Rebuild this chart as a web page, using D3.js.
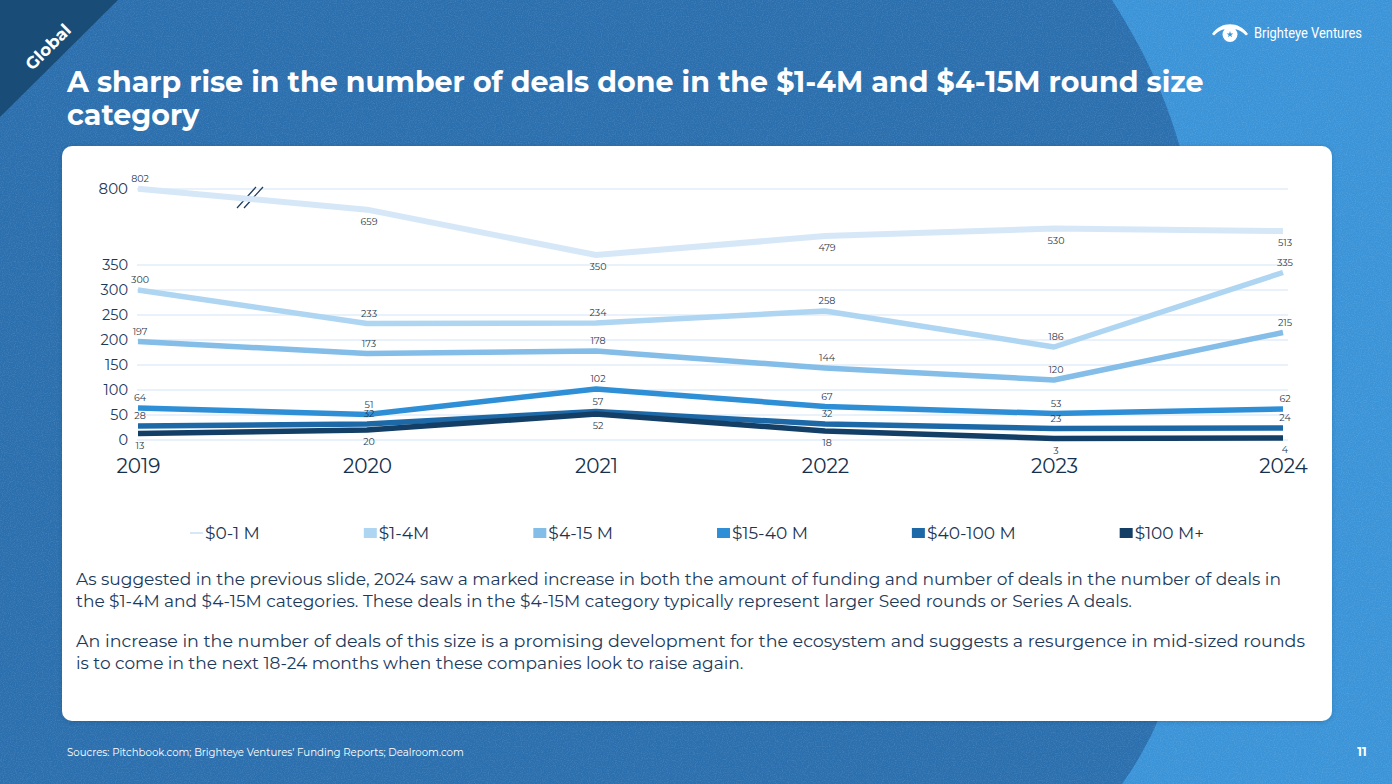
<!DOCTYPE html>
<html>
<head>
<meta charset="utf-8">
<script src="https://cdn.jsdelivr.net/npm/d3@7"></script>
<style>
  html, body { margin: 0; padding: 0; overflow: hidden; background: #2b6eae; }
  svg { display: block; }
</style>
</head>
<body>
<script>
// ---------- DATA ----------
const years = ["2019", "2020", "2021", "2022", "2023", "2024"];
const seriesNames = ["$0-1 M", "$1-4M", "$4-15 M", "$15-40 M", "$40-100 M", "$100 M+"];
const deals0to1 = [802, 659, 350, 479, 530, 513];
const deals1to4 = [300, 233, 234, 258, 186, 335];
const deals4to15 = [197, 173, 178, 144, 120, 215];
const deals15to40 = [64, 51, 102, 67, 53, 62];
const deals40to100 = [28, 32, 57, 32, 23, 24];
const deals100plus = [13, 20, 52, 18, 3, 4];
const lowerTicks = [0, 50, 100, 150, 200, 250, 300, 350];
const upperTicks = [800];

const titleLines = [
  "A sharp rise in the number of deals done in the $1-4M and $4-15M round size",
  "category"
];
const bodyLines = [
  ["As suggested in the previous slide, 2024 saw a marked increase in both the amount of funding and number of deals in the number of deals in",
   "the $1-4M and $4-15M categories. These deals in the $4-15M category typically represent larger Seed rounds or Series A deals."],
  ["An increase in the number of deals of this size is a promising development for the ecosystem and suggests a resurgence in mid-sized rounds",
   "is to come in the next 18-24 months when these companies look to raise again."]
];
const sourceText = "Soucres: Pitchbook.com; Brighteye Ventures' Funding Reports; Dealroom.com";
const pageNumber = "11";
const regionTag = "Global";
const brand = "Brighteye Ventures";

// ---------- STYLE ----------
const W = 1392, H = 784;
const FONT = "Montserrat, 'Open Sans', 'Noto Sans', sans-serif";
const colors = ["#d6e8f8", "#aed5f1", "#84bde7", "#2f8fd6", "#1d69a8", "#133f66"];
const widths = [6, 5.5, 5.5, 5.5, 5.5, 5.5];
const series = [deals0to1, deals1to4, deals4to15, deals15to40, deals40to100, deals100plus];

const svg = d3.select("body").append("svg").attr("width", W).attr("height", H);
const defs = svg.append("defs");

// grain texture
const nf = defs.append("filter").attr("id", "grain").attr("x", 0).attr("y", 0).attr("width", "100%").attr("height", "100%");
nf.append("feTurbulence").attr("type", "fractalNoise").attr("baseFrequency", 0.85).attr("numOctaves", 2).attr("stitchTiles", "stitch");
nf.append("feColorMatrix").attr("type", "matrix")
  .attr("values", "0 0 0 0 1  0 0 0 0 1  0 0 0 0 1  1.2 0 0 0 -0.5");

const sh = defs.append("filter").attr("id", "shadow").attr("x", "-5%").attr("y", "-5%").attr("width", "110%").attr("height", "110%");
sh.append("feDropShadow").attr("dx", 0).attr("dy", 1).attr("stdDeviation", 2).attr("flood-color", "#0b2a48").attr("flood-opacity", 0.25);

// ---------- BACKGROUND ----------
svg.append("rect").attr("width", W).attr("height", H).attr("fill", "#2b6fae");
svg.append("path")
  .attr("d", "M1112,0 C1150,60 1178,120 1192,200 C1212,360 1210,520 1185,640 C1170,700 1150,745 1122,784 L1392,784 L1392,0 Z")
  .attr("fill", "#3b94d8");
svg.append("rect").attr("width", W).attr("height", H).attr("filter", "url(#grain)").attr("opacity", 0.2);

// top-left triangle tag
svg.append("path").attr("d", "M0,0 L118,0 L0,117 Z").attr("fill", "#194c76");
svg.append("text").text(regionTag)
  .attr("transform", "translate(48,47) rotate(-45)")
  .attr("text-anchor", "middle").attr("dy", "0.35em")
  .attr("font-family", FONT).attr("font-weight", 700).attr("font-size", 17)
  .attr("fill", "#ffffff");

// logo
const logo = svg.append("g").attr("transform", "translate(1230,33)");
logo.append("path").attr("d", "M-18,1 C-9,-12 9,-12 18,1 L16,2.5 C8,-7 -8,-7 -16,2.5 Z").attr("fill", "#fff");
logo.append("circle").attr("r", 7.5).attr("cy", 1.5).attr("fill", "#fff");
logo.append("path").attr("d", d3.symbol(d3.symbolStar, 14)()).attr("transform", "translate(0,1.5)").attr("fill", "#3b94d8");
svg.append("text").text(brand).attr("x", 1254).attr("y", 38)
  .attr("font-family", "'Liberation Sans Narrow', 'Roboto', sans-serif").attr("font-size", 15)
  .attr("fill", "#fff").attr("textLength", 108).attr("lengthAdjust", "spacingAndGlyphs");

// title
titleLines.forEach((t, i) => {
  svg.append("text").text(t).attr("x", 67).attr("y", 92 + i * 33)
    .attr("font-family", FONT).attr("font-weight", 700).attr("font-size", 28.5)
    .attr("fill", "#ffffff");
});

// card
svg.append("rect").attr("x", 62).attr("y", 146).attr("width", 1270).attr("height", 575).attr("rx", 10)
  .attr("fill", "#ffffff").attr("filter", "url(#shadow)");

// ---------- CHART ----------
const x = d3.scalePoint().domain(years).range([138, 1283]);
const yLower = d3.scaleLinear().domain([0, 350]).range([440, 265]);
const yUpper = d3.scaleLinear().domain([350, 800]).range([255, 189]);
const yFor = (si) => si === 0 ? yUpper : yLower;

const chart = svg.append("g");

// gridlines
const gridG = chart.append("g");
const gridData = lowerTicks.map(v => yLower(v)).concat(upperTicks.map(v => yUpper(v)));
gridG.selectAll("line").data(gridData).join("line")
  .attr("x1", 137).attr("x2", 1288).attr("y1", d => d).attr("y2", d => d)
  .attr("stroke", "#e2edf8").attr("stroke-width", 1.4);

// y axes
const axL = chart.append("g").attr("transform", "translate(128,0)")
  .call(d3.axisLeft(yLower).tickValues(lowerTicks).tickSize(0).tickPadding(0));
const axU = chart.append("g").attr("transform", "translate(128,0)")
  .call(d3.axisLeft(yUpper).tickValues(upperTicks).tickSize(0).tickPadding(0));
[axL, axU].forEach(a => {
  a.select(".domain").remove();
  a.selectAll("text").attr("font-family", FONT).attr("font-size", 14.5)
    .attr("fill", "#1d3a5a");
});
axU.selectAll("text").attr("font-size", 15);

// axis break marks
const brk = chart.append("g").attr("stroke", "#1d3a5a").attr("stroke-width", 1.2);
brk.append("line").attr("x1", 237).attr("y1", 208).attr("x2", 256).attr("y2", 187);
brk.append("line").attr("x1", 244).attr("y1", 208).attr("x2", 263).attr("y2", 187);

// x axis
const axX = chart.append("g").attr("transform", "translate(0,466)")
  .call(d3.axisBottom(x).tickSize(0).tickPadding(0));
axX.select(".domain").remove();
axX.selectAll("text").attr("y", 0).attr("dy", "0.36em")
  .attr("font-family", FONT).attr("font-size", 20).attr("fill", "#15304c");

// lines
series.forEach((vals, si) => {
  const ys = yFor(si);
  const line = d3.line().x((d, i) => x(years[i])).y(d => ys(d));
  chart.append("path").datum(vals).attr("d", line)
    .attr("fill", "none").attr("stroke", colors[si]).attr("stroke-width", widths[si])
    .attr("stroke-linejoin", "round");
});

// data labels
series.forEach((vals, si) => {
  const ys = yFor(si);
  const below = (si === 0 || si === series.length - 1);
  chart.append("g").selectAll("text").data(vals).join("text")
    .attr("x", (d, i) => x(years[i]) + 2)
    .attr("y", (d, i) => {
      const py = ys(d);
      const isBelow = below && !(si === 0 && d > 800);
      return isBelow ? py + 15 : py - 7;
    })
    .attr("text-anchor", "middle")
    .attr("font-family", FONT).attr("font-size", 9.5)
    .attr("fill", "#2a3a4c")
    .text(d => d);
});

// legend
const legend = chart.append("g").attr("transform", "translate(0,533)");
const items = legend.selectAll("g").data(seriesNames).join("g");
items.append("text").text(d => d)
  .attr("x", 15).attr("dy", "0.36em")
  .attr("font-family", FONT).attr("font-size", 17).attr("fill", "#1b3552");
items.each(function (d, i) {
  const g = d3.select(this);
  if (i === 0) {
    g.append("rect").attr("x", 0).attr("y", -1).attr("width", 13).attr("height", 2).attr("fill", colors[i]);
  } else {
    g.append("rect").attr("x", 0).attr("y", -5).attr("width", 13).attr("height", 10).attr("fill", colors[i]);
  }
});
let lx = 0;
const gap = 104;
const offsets = [];
items.each(function () {
  offsets.push(lx);
  const w = d3.select(this).select("text").node().getComputedTextLength();
  lx += 15 + w + gap;
});
const total = lx - gap;
const startX = 697 - total / 2;
items.attr("transform", (d, i) => `translate(${startX + offsets[i]},0)`);

// body text
bodyLines.forEach((para, pi) => {
  para.forEach((t, li) => {
    const el = svg.append("text").text(t).attr("x", 76).attr("y", 585 + pi * 62 + li * 21.5)
      .attr("font-family", FONT).attr("font-size", 17)
      .attr("fill", "#1b3a5b");
    if (li === 0) {
      const w = el.node().getComputedTextLength();
      const target = pi === 0 ? 1205 : 1229;
      if (Math.abs(w - target) > 4) el.attr("textLength", target).attr("lengthAdjust", "spacingAndGlyphs");
    }
  });
});

// footer
svg.append("text").text(sourceText).attr("x", 67).attr("y", 756)
  .attr("font-family", FONT).attr("font-size", 10.2).attr("fill", "#ffffff");
svg.append("text").text(pageNumber).attr("x", 1362).attr("y", 756).attr("text-anchor", "middle")
  .attr("font-family", FONT).attr("font-weight", 700).attr("font-size", 12).attr("fill", "#ffffff");
</script>
</body>
</html>
